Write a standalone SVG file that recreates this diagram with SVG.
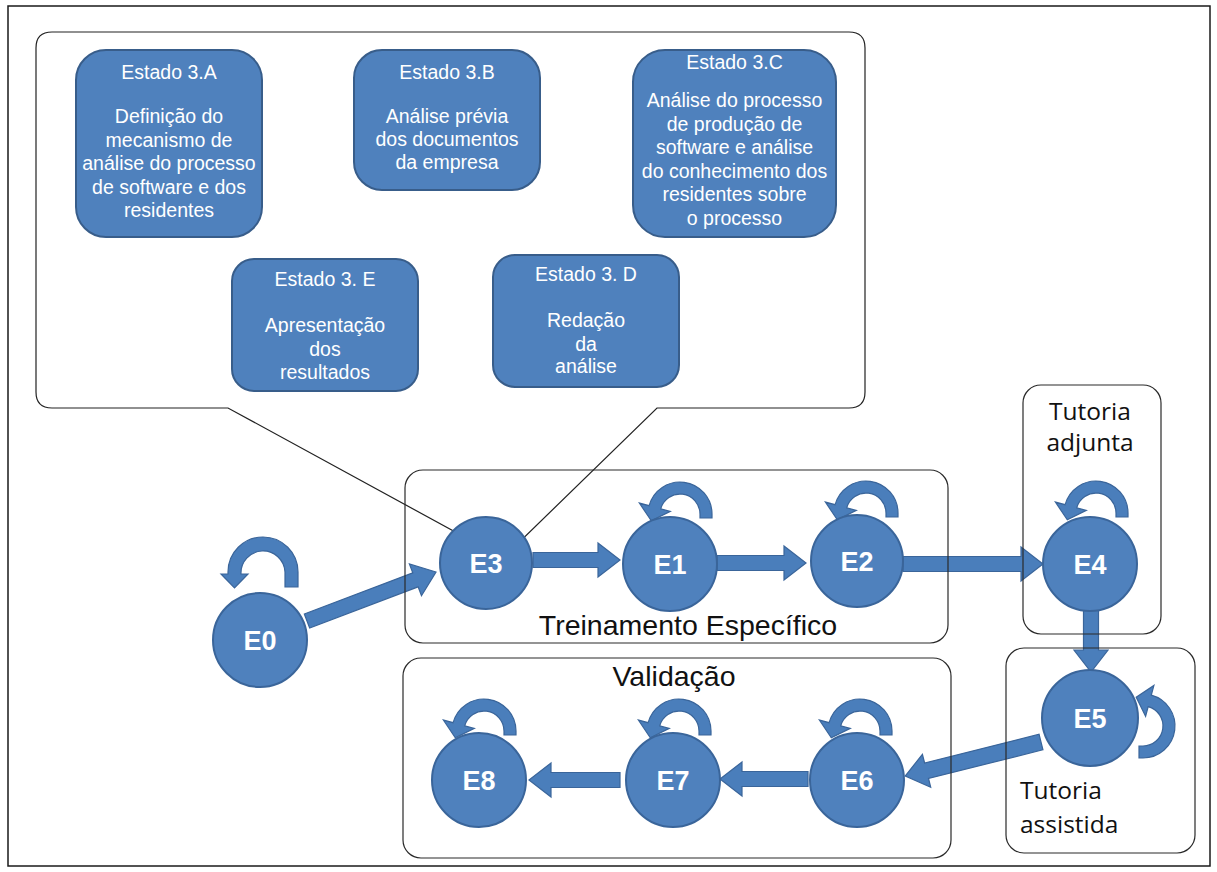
<svg xmlns="http://www.w3.org/2000/svg" width="1217" height="872" viewBox="0 0 1217 872">
  <style>
    .frame { fill: none; stroke: #1a1a1a; stroke-width: 1.5; }
    .callout { fill: #ffffff; stroke: #222222; stroke-width: 1.2; }
    .group { fill: none; stroke: #2a2a2a; stroke-width: 1.2; }
    .state { fill: #4f81bd; stroke: #385d8a; stroke-width: 2; }
    .stext { font-family: "Liberation Sans", Arial, sans-serif; font-size: 19.5px; fill: #ffffff; text-anchor: middle; }
    .node { fill: #4f81bd; stroke: #3a659a; stroke-width: 2; }
    .nlabel { font-family: "Liberation Sans", Arial, sans-serif; font-size: 27px; font-weight: bold; fill: #ffffff; text-anchor: middle; }
    .arrow { fill: #4a7ebb; stroke: #3a659a; stroke-width: 1.2; stroke-linejoin: miter; }
    .title { font-family: "Liberation Sans", Arial, sans-serif; font-size: 28.5px; fill: #111111; text-anchor: middle; }
    .tut { font-family: "Open Sans", "Noto Sans", sans-serif; font-size: 24.5px; fill: #111111; }
  </style>
  <defs>
    <!-- self-transition: curved band with arrowhead, origin at arc centre -->
    <path id="loop" d="M32,4 L32,0 A32,32 0 0 0 -30.9,-8.3 L-40.6,-10.9 L-28.7,6.8 L-9.7,-2.6 L-19.3,-5.2 A20,20 0 0 1 20,0 L20,4 Z"/>
  </defs>

  <rect width="1217" height="872" fill="#ffffff"/>
  <rect class="frame" x="8" y="6" width="1202" height="860"/>

  <!-- detail callout for state E3 -->
  <g id="callout-e3">
    <path class="callout" d="M52,32 H849 Q865,32 865,48 V392 Q865,408 849,408 H657 L503,558 L228,408 H52 Q36,408 36,392 V48 Q36,32 52,32 Z"/>
    <g id="estado-3a">
      <rect class="state" x="76" y="50" width="186" height="187" rx="30"/>
      <text class="stext" x="169" y="79">Estado 3.A</text>
      <text class="stext" x="169" y="123">Definição do</text>
      <text class="stext" x="169" y="146.5">mecanismo de</text>
      <text class="stext" x="169" y="170">análise do processo</text>
      <text class="stext" x="169" y="193.5">de software e dos</text>
      <text class="stext" x="169" y="217">residentes</text>
    </g>
    <g id="estado-3b">
      <rect class="state" x="354" y="50" width="186" height="140" rx="28"/>
      <text class="stext" x="447" y="79">Estado 3.B</text>
      <text class="stext" x="447" y="123">Análise prévia</text>
      <text class="stext" x="447" y="146">dos documentos</text>
      <text class="stext" x="447" y="169">da empresa</text>
    </g>
    <g id="estado-3c">
      <rect class="state" x="633" y="50" width="203" height="187" rx="32"/>
      <text class="stext" x="734.5" y="69">Estado 3.C</text>
      <text class="stext" x="734.5" y="107">Análise do processo</text>
      <text class="stext" x="734.5" y="130.5">de produção de</text>
      <text class="stext" x="734.5" y="154">software e análise</text>
      <text class="stext" x="734.5" y="177.5">do conhecimento dos</text>
      <text class="stext" x="734.5" y="201">residentes sobre</text>
      <text class="stext" x="734.5" y="224.5">o processo</text>
    </g>
    <g id="estado-3e">
      <rect class="state" x="232" y="259" width="186" height="132" rx="22"/>
      <text class="stext" x="325" y="286">Estado 3. E</text>
      <text class="stext" x="325" y="332">Apresentação</text>
      <text class="stext" x="325" y="356">dos</text>
      <text class="stext" x="325" y="379">resultados</text>
    </g>
    <g id="estado-3d">
      <rect class="state" x="493" y="255" width="186" height="132" rx="22"/>
      <text class="stext" x="586" y="281">Estado 3. D</text>
      <text class="stext" x="586" y="327">Redação</text>
      <text class="stext" x="586" y="351">da</text>
      <text class="stext" x="586" y="373">análise</text>
    </g>
  </g>

  <!-- transitions and self-loops -->
  <g id="connectors">
    <polygon class="arrow" transform="translate(307,621) rotate(-20.8)" points="0,-7.5 116,-7.5 116,-17 138,0 116,17 116,7.5 0,7.5"/>
    <polygon class="arrow" transform="translate(533,560)" points="0,-7.5 65,-7.5 65,-17 87,0 65,17 65,7.5 0,7.5"/>
    <polygon class="arrow" transform="translate(717,563)" points="0,-7.5 67,-7.5 67,-17 89,0 67,17 67,7.5 0,7.5"/>
    <polygon class="arrow" transform="translate(903,564)" points="0,-7.5 118,-7.5 118,-17 140,0 118,17 118,7.5 0,7.5"/>
    <polygon class="arrow" transform="translate(1091,610) rotate(90)" points="0,-7.5 40,-7.5 40,-17 62,0 40,17 40,7.5 0,7.5"/>
    <polygon class="arrow" transform="translate(1041,742) rotate(165.9)" points="0,-8 118,-8 118,-17 140,0 118,17 118,8 0,8"/>
    <polygon class="arrow" transform="translate(808,779) rotate(180)" points="0,-7.5 66,-7.5 66,-17 88,0 66,17 66,7.5 0,7.5"/>
    <polygon class="arrow" transform="translate(620,780) rotate(180)" points="0,-7.5 69,-7.5 69,-17 91,0 69,17 69,7.5 0,7.5"/>

    <path class="arrow" d="M298,587 L298,572 A35,35 0 0 0 228,572 L228,574 L221,574 L234.5,588 L248,574 L241,574 A22,22 0 0 1 285,572 L285,587 Z"/>
    <use href="#loop" class="arrow" transform="translate(680,514)"/>
    <use href="#loop" class="arrow" transform="translate(866,513)"/>
    <use href="#loop" class="arrow" transform="translate(1096,513)"/>
    <use href="#loop" class="arrow" transform="translate(1143,726) rotate(90)"/>
    <use href="#loop" class="arrow" transform="translate(860,731)"/>
    <use href="#loop" class="arrow" transform="translate(679,731)"/>
    <use href="#loop" class="arrow" transform="translate(484,731)"/>
  </g>

  <!-- phase containers -->
  <g id="fase-treinamento">
    <rect class="group" x="405" y="470" width="543" height="173" rx="18"/>
    <text class="title" x="688" y="635">Treinamento Específico</text>
  </g>
  <g id="fase-validacao">
    <rect class="group" x="403" y="658" width="548" height="200" rx="18"/>
    <text class="title" x="674" y="686">Validação</text>
  </g>
  <g id="fase-tutoria-adjunta">
    <rect class="group" x="1023" y="385" width="138" height="249" rx="18"/>
    <text class="tut" x="1090" y="420" text-anchor="middle">Tutoria</text>
    <text class="tut" x="1090" y="451" text-anchor="middle">adjunta</text>
  </g>
  <g id="fase-tutoria-assistida">
    <rect class="group" x="1006" y="648" width="189" height="205" rx="18"/>
    <text class="tut" x="1020" y="799">Tutoria</text>
    <text class="tut" x="1020" y="833">assistida</text>
  </g>

  <!-- states -->
  <g id="E0"><circle class="node" cx="260" cy="640" r="47"/><text class="nlabel" x="260" y="650">E0</text></g>
  <g id="E3"><circle class="node" cx="486" cy="563" r="46"/><text class="nlabel" x="486" y="573">E3</text></g>
  <g id="E1"><circle class="node" cx="670" cy="564" r="47"/><text class="nlabel" x="670" y="574">E1</text></g>
  <g id="E2"><circle class="node" cx="857" cy="561" r="46"/><text class="nlabel" x="857" y="571">E2</text></g>
  <g id="E4"><circle class="node" cx="1090" cy="564" r="47"/><text class="nlabel" x="1090" y="574">E4</text></g>
  <g id="E5"><circle class="node" cx="1090" cy="718" r="48"/><text class="nlabel" x="1090" y="728">E5</text></g>
  <g id="E6"><circle class="node" cx="857" cy="780" r="47"/><text class="nlabel" x="857" y="790">E6</text></g>
  <g id="E7"><circle class="node" cx="673" cy="780" r="47"/><text class="nlabel" x="673" y="790">E7</text></g>
  <g id="E8"><circle class="node" cx="479" cy="780" r="47"/><text class="nlabel" x="479" y="790">E8</text></g>
</svg>
